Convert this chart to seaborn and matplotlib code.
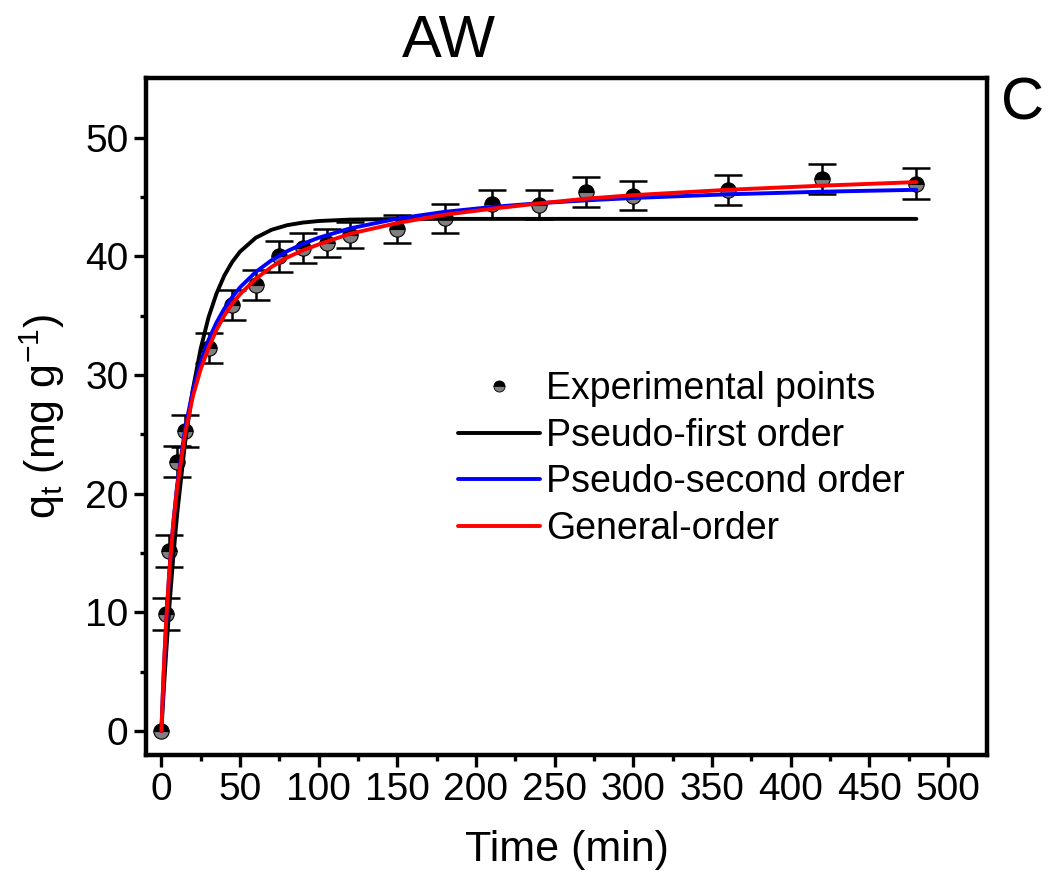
import numpy as np
import pandas as pd
import matplotlib
matplotlib.use("Agg")
import matplotlib.pyplot as plt
import seaborn as sns
from matplotlib.lines import Line2D

# ---------------- data ----------------
time_exp = [0, 3, 5, 10, 15, 30, 45, 60, 75, 90, 105, 120, 150, 180, 210, 240, 270, 300, 360, 420, 480]
qt_exp = [0, 9.85, 15.2, 22.7, 25.3, 32.3, 35.9, 37.6, 40.0, 40.7, 41.1, 41.8, 42.3, 43.2, 44.4, 44.35,
          45.4, 45.1, 45.6, 46.5, 46.1]
qt_err = [0, 1.35, 1.35, 1.3, 1.35, 1.26, 1.26, 1.26, 1.3, 1.26, 1.18, 1.1, 1.15, 1.2, 1.2, 1.2,
          1.26, 1.2, 1.26, 1.26, 1.3]

time_fit = [0, 1, 2, 3, 5, 7.5, 10, 15, 20, 25, 30, 35, 40, 45, 50, 60, 70, 80, 90, 100, 120,
            150, 180, 210, 240, 270, 300, 360, 420, 480]
pfo = [0, 2.31, 4.50, 6.56, 10.37, 14.59, 18.26, 24.24, 28.79, 32.24, 34.87, 36.85, 38.37, 39.52,
       40.39, 41.56, 42.23, 42.62, 42.84, 42.97, 43.09, 43.14, 43.15, 43.15, 43.15, 43.15, 43.15,
       43.15, 43.15, 43.15]
pso = [0, 3.44, 6.41, 9.0, 13.30, 17.46, 20.71, 25.43, 28.71, 31.12, 32.96, 34.41, 35.59, 36.56,
       37.38, 38.68, 39.66, 40.43, 41.05, 41.56, 42.35, 43.17, 43.74, 44.15, 44.47, 44.71, 44.91,
       45.22, 45.44, 45.60]
gen = [0, 3.6, 6.6, 9.2, 13.4, 17.4, 20.5, 25.0, 28.2, 30.5, 32.3, 33.8, 35.0, 36.0, 36.8, 38.1,
       39.1, 39.9, 40.5, 41.0, 41.9, 42.8, 43.5, 44.0, 44.45, 44.85, 45.15, 45.6, 45.95, 46.25]

series_names = ["Pseudo-first order", "Pseudo-second order", "General-order"]
series_colors = ["black", "#0000ff", "#ff0000"]
xticks = [0, 50, 100, 150, 200, 250, 300, 350, 400, 450, 500]
yticks = [0, 10, 20, 30, 40, 50]

# ---------------- style ----------------
sns.set_theme(style="ticks")
plt.rcParams["font.family"] = ["Liberation Sans", "DejaVu Sans"]
plt.rcParams["mathtext.fontset"] = "custom"
plt.rcParams["mathtext.rm"] = "Liberation Sans"
plt.rcParams["mathtext.it"] = "Liberation Sans:italic"
plt.rcParams["text.color"] = "black"

fig = plt.figure(figsize=(10.48, 8.89), dpi=100)
ax = fig.add_axes([0.139, 0.151, 0.803, 0.761])

# error bars (only where an error exists)
eb_t = [t for t, e in zip(time_exp, qt_err) if e > 0]
eb_q = [q for q, e in zip(qt_exp, qt_err) if e > 0]
eb_e = [e for e in qt_err if e > 0]
ax.errorbar(eb_t, eb_q, yerr=eb_e, fmt="none", ecolor="black",
            elinewidth=1.8, capsize=10, capthick=1.8, zorder=2)
# half-filled experimental markers
ax.plot(time_exp, qt_exp, linestyle="none", marker="o", markersize=11,
        markerfacecolor="black", markerfacecoloralt="#808080", fillstyle="top",
        markeredgecolor="black", markeredgewidth=0.8, zorder=2.5)

df = pd.DataFrame({
    "time": time_fit * 3,
    "qt": pfo + pso + gen,
    "model": [series_names[0]] * len(time_fit) + [series_names[1]] * len(time_fit)
             + [series_names[2]] * len(time_fit),
})
sns.lineplot(data=df, x="time", y="qt", hue="model", palette=dict(zip(series_names, series_colors)),
             linewidth=2.8, ax=ax, zorder=3, legend=False, sort=False)

ax.set_xlim(-10, 525)
ax.set_ylim(-2, 55)
ax.set_xticks(xticks)
ax.set_yticks(yticks)
ax.set_xticks(np.arange(25, 525, 50), minor=True)
ax.set_yticks(np.arange(5, 55, 10), minor=True)
ax.tick_params(axis="both", which="major", direction="out", length=8.5, width=2.4,
               labelsize=28, pad=4, color="black", labelcolor="black")
ax.tick_params(axis="both", which="minor", direction="out", length=4.3, width=2.4, color="black")
for s in ax.spines.values():
    s.set_visible(True)
    s.set_linewidth(3.2)
    s.set_color("black")

ax.set_xlabel("Time (min)", fontsize=31, labelpad=16, color="black")
ax.set_ylabel(r"q$_\mathrm{t}$ (mg g$^{-1}$)", fontsize=31, labelpad=13, color="black")

handles = [
    Line2D([], [], marker="o", linestyle="none", markersize=8, markerfacecolor="black",
           markerfacecoloralt="#808080", fillstyle="top", markeredgecolor="black",
           markeredgewidth=0.6),
] + [Line2D([], [], color=c, linewidth=2.8) for c in series_colors]
labels = ["Experimental points"] + series_names
ax.legend(handles, labels, loc="upper left", bbox_to_anchor=(0.371, 0.567), frameon=False,
          fontsize=27, handlelength=2.2, handletextpad=0.15, labelspacing=0.28,
          borderpad=0, borderaxespad=0, labelcolor="black")

fig.text(0.428, 0.953, "AW", fontsize=43, ha="center", va="center", color="black")
fig.text(0.976, 0.883, "C", fontsize=43, ha="center", va="center", color="black")

fig.savefig("out.png", dpi=100)
